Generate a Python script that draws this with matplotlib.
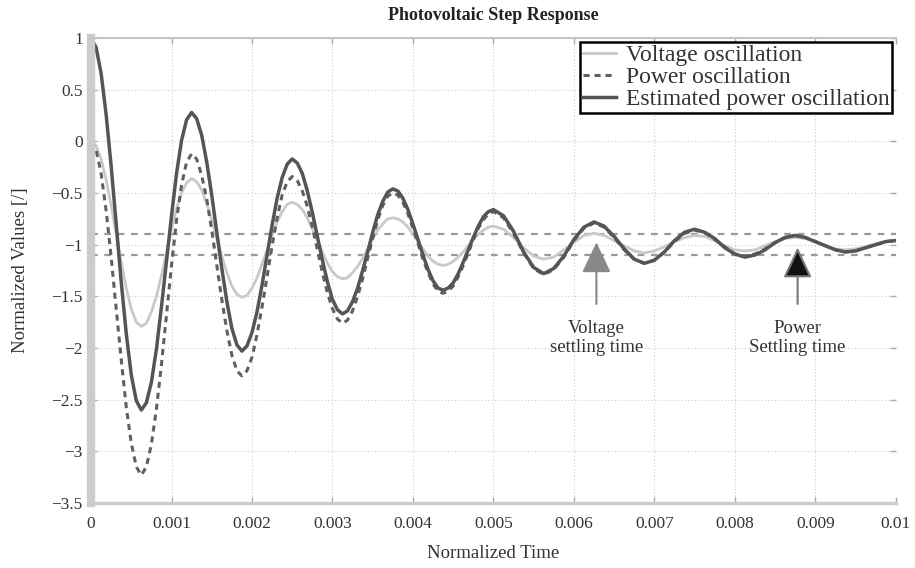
import matplotlib

matplotlib.use("Agg")
import matplotlib.pyplot as plt
import numpy as np

# sample grid: fine up to 0.005, coarser afterwards (oscillation is small there)
time = np.concatenate([np.linspace(0, 0.005, 81), np.linspace(0.005125, 0.01, 40)])

voltage = [
    0.00, -0.04, -0.17, -0.37, -0.62, -0.90, -1.17, -1.42, -1.62, -1.75, -1.79,
    -1.76, -1.65, -1.50, -1.30, -1.08, -0.85, -0.65, -0.50, -0.40, -0.36,
    -0.39, -0.47, -0.60, -0.76, -0.94, -1.11, -1.27, -1.40, -1.48, -1.51,
    -1.49, -1.42, -1.32, -1.19, -1.05, -0.91, -0.78, -0.68, -0.61, -0.59,
    -0.61, -0.66, -0.74, -0.85, -0.96, -1.07, -1.18, -1.26, -1.31, -1.33,
    -1.32, -1.27, -1.21, -1.13, -1.04, -0.94, -0.86, -0.80, -0.75, -0.74,
    -0.75, -0.78, -0.83, -0.90, -0.97, -1.04, -1.11, -1.16, -1.19, -1.20,
    -1.19, -1.16, -1.12, -1.07, -1.01, -0.95, -0.90, -0.86, -0.83, -0.82,
    -0.85, -0.93, -1.03, -1.11, -1.14,
    -1.12, -1.05, -0.98, -0.91, -0.89,
    -0.91, -0.96, -1.01, -1.06, -1.08,
    -1.06, -1.02, -0.97, -0.93, -0.91,
    -0.92, -0.96, -1.01, -1.05, -1.06,
    -1.05, -1.01, -0.97, -0.94, -0.93,
    -0.94, -0.97, -1.01, -1.04, -1.05,
    -1.04, -1.02, -0.99, -0.97, -0.96,
]

power = [
    0.00, -0.08, -0.31, -0.67, -1.12, -1.62, -2.11, -2.57, -2.92, -3.15, -3.23,
    -3.15, -2.93, -2.59, -2.16, -1.68, -1.20, -0.76, -0.42, -0.20, -0.12,
    -0.17, -0.33, -0.56, -0.86, -1.20, -1.53, -1.83, -2.07, -2.22, -2.27,
    -2.22, -2.09, -1.87, -1.60, -1.31, -1.01, -0.74, -0.52, -0.39, -0.34,
    -0.38, -0.48, -0.63, -0.83, -1.05, -1.27, -1.47, -1.62, -1.72, -1.76,
    -1.73, -1.64, -1.50, -1.33, -1.13, -0.94, -0.76, -0.62, -0.53, -0.50,
    -0.52, -0.59, -0.70, -0.84, -0.99, -1.14, -1.27, -1.38, -1.45, -1.47,
    -1.45, -1.40, -1.31, -1.20, -1.08, -0.95, -0.84, -0.76, -0.70, -0.68,
    -0.74, -0.89, -1.08, -1.23, -1.29,
    -1.24, -1.12, -0.96, -0.84, -0.79,
    -0.83, -0.93, -1.05, -1.14, -1.18,
    -1.15, -1.07, -0.97, -0.89, -0.86,
    -0.88, -0.95, -1.02, -1.09, -1.11,
    -1.09, -1.04, -0.98, -0.93, -0.91,
    -0.93, -0.97, -1.01, -1.05, -1.07,
    -1.06, -1.03, -1.00, -0.97, -0.96,
]

estimated = [
    1.00, 0.91, 0.66, 0.26, -0.24, -0.80, -1.36, -1.86, -2.26, -2.51, -2.60,
    -2.53, -2.33, -2.01, -1.60, -1.16, -0.72, -0.31, 0.01, 0.21, 0.28,
    0.22, 0.06, -0.20, -0.52, -0.88, -1.23, -1.55, -1.81, -1.97, -2.03,
    -1.98, -1.85, -1.65, -1.39, -1.10, -0.81, -0.55, -0.35, -0.22, -0.17,
    -0.21, -0.31, -0.48, -0.69, -0.92, -1.15, -1.36, -1.53, -1.63, -1.67,
    -1.64, -1.55, -1.42, -1.25, -1.07, -0.88, -0.71, -0.58, -0.49, -0.46,
    -0.48, -0.55, -0.66, -0.80, -0.95, -1.10, -1.24, -1.35, -1.42, -1.44,
    -1.42, -1.37, -1.28, -1.17, -1.05, -0.93, -0.82, -0.73, -0.68, -0.66,
    -0.72, -0.87, -1.07, -1.22, -1.28,
    -1.23, -1.11, -0.95, -0.83, -0.78,
    -0.82, -0.92, -1.04, -1.14, -1.18,
    -1.15, -1.07, -0.96, -0.88, -0.85,
    -0.88, -0.94, -1.03, -1.09, -1.12,
    -1.10, -1.05, -0.98, -0.93, -0.91,
    -0.93, -0.97, -1.01, -1.05, -1.07,
    -1.06, -1.03, -1.00, -0.97, -0.96,
]

settling_band = [-0.9, -1.1]
voltage_settling_t = 0.00628
power_settling_t = 0.00878

plt.rcParams["font.family"] = ["Liberation Serif", "DejaVu Serif"]

fig = plt.figure(figsize=(9.15, 5.68), dpi=100)
ax = fig.add_axes([0.0995, 0.1144, 0.8795, 0.8186])

ax.plot(time, voltage, color="#c9c9c9", lw=2.0, label="Voltage oscillation")
ax.plot(time, power, color="#606060", lw=2.2, ls=(0, (2.0, 1.6)),
        label="Power oscillation")
ax.plot(time, estimated, color="#555555", lw=2.5,
        label="Estimated power oscillation")

for yb in settling_band:
    ax.axhline(yb, color="#999999", lw=1.6, ls=(0, (3, 3)), zorder=1)

ax.set_xlim(0, 0.01)
ax.set_ylim(-3.5, 1)
ax.set_xticks(np.arange(0, 0.0101, 0.001))
ax.set_xticklabels(["0", "0.001", "0.002", "0.003", "0.004", "0.005",
                    "0.006", "0.007", "0.008", "0.009", "0.01"])
ax.set_yticks(np.arange(-3.5, 1.01, 0.5))
ax.set_yticklabels(["\u22123.5", "\u22123", "\u22122.5", "\u22122", "\u22121.5",
                    "\u22121", "\u22120.5", "0", "0.5", "1"])
ax.tick_params(direction="in", length=4, width=1, color="#aaaaaa",
               labelsize=12.5, labelcolor="#333333", top=True, right=True)
ax.tick_params(axis="x", pad=9)
ax.tick_params(axis="y", pad=6)
ax.grid(True, color="#cccccc", ls=(0, (1, 2)), lw=0.8)

ax.spines["top"].set_color("#c4c4c4")
ax.spines["top"].set_linewidth(1.5)
ax.spines["bottom"].set_color("#cccccc")
ax.spines["bottom"].set_linewidth(2.5)
ax.spines["left"].set_color("#cccccc")
ax.spines["left"].set_linewidth(6)
ax.spines["right"].set_visible(False)

ax.set_xlabel("Normalized Time", fontsize=13.5, color="#333333", labelpad=10)
ax.set_ylabel("Normalized Values [/]", fontsize=13.5, color="#333333", labelpad=16)
ax.set_title("Photovoltaic Step Response", fontsize=13, fontweight="bold",
             color="#222222", pad=13)

leg = ax.legend(loc="upper right", fontsize=17, frameon=True, fancybox=False,
                edgecolor="black", framealpha=1, borderpad=0.12,
                labelspacing=0.02, handlelength=1.4, handletextpad=0.4,
                borderaxespad=0.15)
leg.get_frame().set_linewidth(1.8)
for txt in leg.get_texts():
    txt.set_color("#333333")

ax.annotate("", xy=(voltage_settling_t, -0.95), xytext=(voltage_settling_t, -1.60),
            arrowprops=dict(arrowstyle="-|>,head_length=0.95,head_width=0.45",
                            mutation_scale=20, color="#888888", lw=1.5))
ax.text(voltage_settling_t, -1.90, "Voltage\nsettling time", ha="center",
        va="center", fontsize=13.5, color="#333333", linespacing=1.15)

ax.annotate("", xy=(power_settling_t, -1.0), xytext=(power_settling_t, -1.60),
            arrowprops=dict(arrowstyle="-|>,head_length=0.95,head_width=0.45",
                            mutation_scale=20, lw=1.5,
                            ec="#777777", fc="#111111"))
ax.text(power_settling_t, -1.90, "Power\nSettling time", ha="center",
        va="center", fontsize=13.5, color="#333333", linespacing=1.15)

fig.savefig("out.png", dpi=100)
